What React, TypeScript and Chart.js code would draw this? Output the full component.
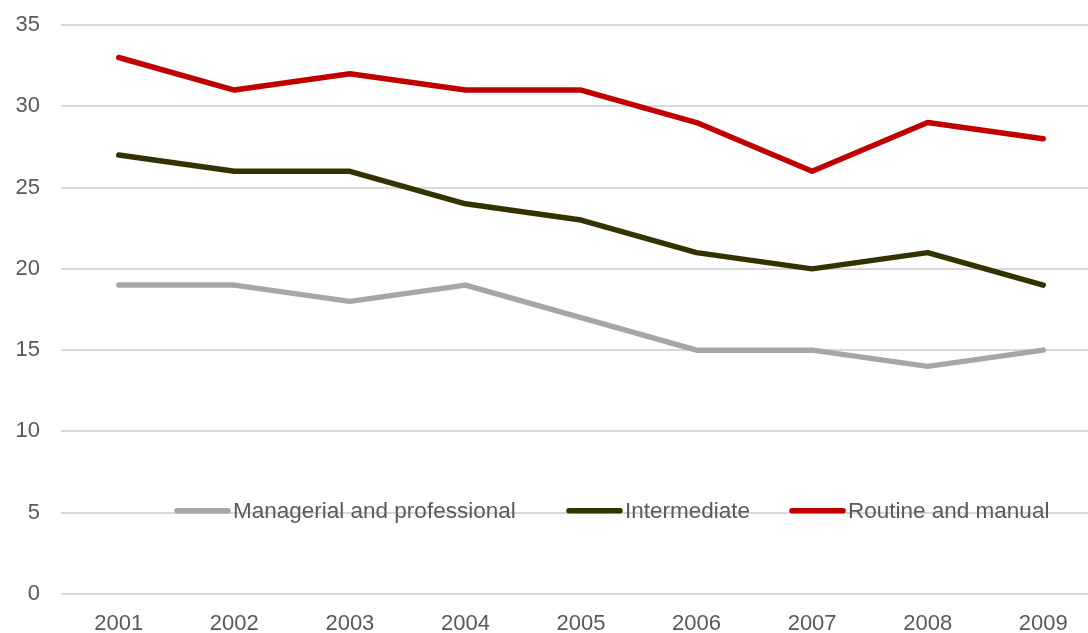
import React, { useEffect, useRef } from "react";
import { Chart, registerables } from "chart.js";

Chart.register(...registerables);

const years = ["2001", "2002", "2003", "2004", "2005", "2006", "2007", "2008", "2009"];
const managerial = [19, 19, 18, 19, 17, 15, 15, 14, 15];
const intermediate = [27, 26, 26, 24, 23, 21, 20, 21, 19];
const routine = [33, 31, 32, 31, 31, 29, 26, 29, 28];
const seriesNames = ["Managerial and professional", "Intermediate", "Routine and manual"];
const seriesColors = ["#A6A6A6", "#333300", "#C00000"];

const FONT = "'Liberation Sans', Arial, sans-serif";
const FONT_SIZE = 22;
const LEGEND_FONT_SIZE = 22.5;
const LEGEND_X = [175, 567, 790];

const insideLegend = {
  id: "insideLegend",
  afterDatasetsDraw(chart: any) {
    const ctx = chart.ctx;
    const yPix = chart.scales.y.getPixelForValue(5) - 2;
    ctx.save();
    ctx.font = `${LEGEND_FONT_SIZE}px ${FONT}`;
    ctx.textBaseline = "middle";
    const sample = 55;
    chart.data.datasets.forEach((d: any, i: number) => {
      const x = LEGEND_X[i];
      ctx.strokeStyle = d.borderColor;
      ctx.lineWidth = 5.5;
      ctx.lineCap = "round";
      ctx.beginPath();
      ctx.moveTo(x + 2, yPix);
      ctx.lineTo(x + sample - 2, yPix);
      ctx.stroke();
      ctx.fillStyle = "#595959";
      ctx.fillText(d.label, x + sample + 3, yPix + 1);
    });
    ctx.restore();
  },
};

export default function App() {
  const ref = useRef<HTMLCanvasElement | null>(null);
  useEffect(() => {
    if (!ref.current) return;
    const values = [managerial, intermediate, routine];
    const chart = new Chart(ref.current, {
      type: "line",
      data: {
        labels: years,
        datasets: values.map((v, i) => ({
          label: seriesNames[i],
          data: v,
          borderColor: seriesColors[i],
          backgroundColor: seriesColors[i],
          borderWidth: 5.5,
          borderCapStyle: "round",
          borderJoinStyle: "round",
          pointRadius: 0,
          tension: 0,
          fill: false,
        })),
      },
      options: {
        responsive: false,
        animation: false,
        devicePixelRatio: 1,
        layout: { padding: { top: 25, right: 0, left: 0, bottom: 0 } },
        plugins: {
          legend: { display: false },
          tooltip: { enabled: false },
        },
        scales: {
          x: {
            offset: true,
            grid: { display: false, drawTicks: false },
            border: { display: false },
            ticks: {
              color: "#595959",
              font: { family: FONT, size: FONT_SIZE },
              padding: 17,
              maxRotation: 0,
            },
            afterFit(scale: any) {
              scale.height = 39;
              scale.paddingLeft = 0;
              scale.paddingRight = 0;
            },
          },
          y: {
            min: 0,
            max: 35,
            grid: { color: "#D9D9D9", lineWidth: 2, drawTicks: false },
            border: { display: false },
            ticks: {
              stepSize: 5,
              color: "#595959",
              font: { family: FONT, size: FONT_SIZE },
              padding: 21,
            },
            afterFit(scale: any) {
              scale.width = 61;
              scale.paddingTop = 0;
              scale.paddingBottom = 0;
            },
          },
        },
      },
      plugins: [insideLegend],
    } as any);
    return () => chart.destroy();
  }, []);
  return (
    <div style={{ position: "absolute", left: 0, top: 0, width: 1088, height: 633, overflow: "hidden", background: "#fff" }}>
      <canvas ref={ref} width={1101} height={633} style={{ display: "block" }} />
    </div>
  );
}
